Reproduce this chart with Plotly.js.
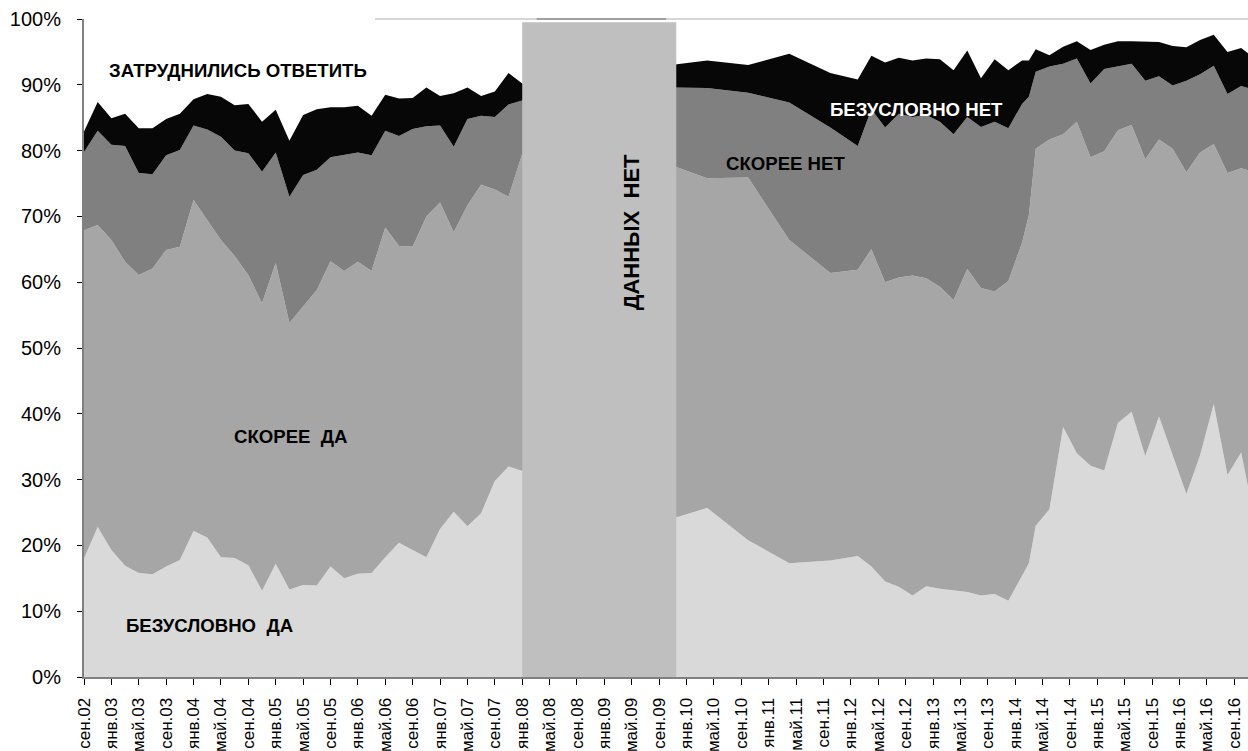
<!DOCTYPE html>
<html>
<head>
<meta charset="utf-8">
<script src="https://cdn.plot.ly/plotly-3.0.1.min.js"></script>
<style>html,body{margin:0;padding:0;background:#fff;}#chart{width:1248px;height:751px;}</style>
</head>
<body>
<div id="chart"></div>
<script>
// Survey dates (year-month)
const dates = [
  "2002-09","2002-11","2003-01","2003-03","2003-05","2003-07","2003-09","2003-11",
  "2004-01","2004-03","2004-05","2004-07","2004-09","2004-11","2005-01","2005-03",
  "2005-05","2005-07","2005-09","2005-11","2006-01","2006-03","2006-05","2006-07",
  "2006-09","2006-11","2007-01","2007-03","2007-05","2007-07","2007-09","2007-11",
  "2008-01",
  "2009-11","2010-04","2010-10","2011-04","2011-10","2012-02","2012-04","2012-06",
  "2012-08","2012-10","2012-12","2013-02","2013-04","2013-06","2013-08","2013-10",
  "2013-12","2014-02","2014-03","2014-04","2014-06","2014-08","2014-10","2014-12",
  "2015-02","2015-04","2015-06","2015-08","2015-10","2015-12","2016-02","2016-04",
  "2016-06","2016-08","2016-10","2016-11"
];

// Shares of answers, %
const definitelyYes = [
  18.0,22.8,19.3,16.9,15.8,15.6,16.8,17.8,22.2,21.2,18.2,18.1,17.0,13.1,17.2,13.3,
  14.0,13.9,16.8,15.0,15.7,15.8,18.2,20.4,19.3,18.2,22.5,25.1,22.9,24.9,29.8,32.0,
  31.3,
  24.1,25.7,20.8,17.3,17.7,18.4,16.8,14.5,13.7,12.4,13.8,13.4,13.1,12.9,12.4,12.6,
  11.6,15.5,17.3,23.0,25.5,38.0,34.0,32.1,31.4,38.6,40.3,33.6,39.6,33.7,27.8,33.7,
  41.5,30.7,34.1,28.9
];
const ratherYes = [
  49.9,45.9,47.1,46.2,45.3,46.5,48.1,47.6,50.3,48.3,48.2,45.9,44.1,43.7,45.7,40.5,
  42.3,44.9,46.4,46.7,47.4,45.9,50.1,45.1,46.1,51.8,49.6,42.5,48.8,49.9,44.3,41.0,
  48.2,
  53.6,50.1,55.1,49.1,43.7,43.5,48.2,45.5,47.0,48.6,46.8,45.9,44.2,49.1,46.7,46.0,
  48.6,50.5,52.9,57.3,56.2,44.5,50.4,46.9,48.5,44.5,43.6,45.1,42.1,46.6,48.9,46.0,
  39.5,45.9,43.2,48.1
];
const ratherNo = [
  11.9,14.3,14.5,17.6,15.5,14.3,14.4,14.7,11.3,13.7,15.7,16.0,18.5,20.0,16.8,19.2,
  20.0,18.3,15.8,17.6,16.6,17.6,14.7,16.7,17.9,13.7,11.7,13.0,13.1,10.5,11.0,14.0,
  8.1,
  11.9,13.7,12.9,20.9,22.1,18.8,21.3,23.5,24.9,24.1,24.8,25.1,25.2,23.1,24.5,25.8,
  23.2,21.1,18.0,11.7,11.1,10.7,9.6,11.2,12.5,9.7,9.3,11.9,9.6,9.6,13.9,11.9,
  11.9,12.0,12.5,12.5
];
const definitelyNo = [
  3.1,4.4,4.0,4.9,6.8,7.0,5.5,5.5,4.0,5.4,6.1,6.9,7.5,7.6,6.5,8.5,
  9.1,9.2,7.6,7.3,7.1,6.0,5.5,5.7,4.7,5.9,4.5,8.1,4.8,3.0,3.9,4.8,
  2.6,
  3.5,4.2,4.2,7.4,8.3,10.1,8.1,9.9,8.5,8.6,8.6,9.5,9.7,10.1,7.4,9.5,
  8.8,6.6,5.5,3.4,1.7,2.6,2.6,5.1,3.7,3.8,3.4,5.9,5.2,6.0,5.1,5.2,
  4.7,6.4,5.8,5.3
];

// Axis tick labels (every 4 months, starting Sep 2002)
const tickLabels = [
  "сен.02","янв.03","май.03","сен.03","янв.04","май.04","сен.04","янв.05","май.05",
  "сен.05","янв.06","май.06","сен.06","янв.07","май.07","сен.07","янв.08","май.08",
  "сен.08","янв.09","май.09","сен.09","янв.10","май.10","сен.10","янв.11","май.11",
  "сен.11","янв.12","май.12","сен.12","янв.13","май.13","сен.13","янв.14","май.14",
  "сен.14","янв.15","май.15","сен.15","янв.16","май.16","сен.16"
];
const yTickValues = [0,10,20,30,40,50,60,70,80,90,100];
const yTickLabels = ["0%","10%","20%","30%","40%","50%","60%","70%","80%","90%","100%"];
const seriesNames = ["БЕЗУСЛОВНО  ДА","СКОРЕЕ  ДА","СКОРЕЕ НЕТ","БЕЗУСЛОВНО НЕТ"];
const noDataLabel = "ДАННЫХ  НЕТ";
const hardToSayLabel = "ЗАТРУДНИЛИСЬ ОТВЕТИТЬ";
const noDataFrom = "2008-01", noDataTo = "2009-11";

// month index since Sep 2002
function mi(s){ const [y,m] = s.split("-").map(Number); return (y-2002)*12 + (m-9); }
const x = dates.map(mi);
const tickvals = tickLabels.map((_,i)=>i*4);

const colors = ["#d9d9d9","#a6a6a6","#808080","#070707"];
const vals = [definitelyYes, ratherYes, ratherNo, definitelyNo];
const traces = vals.map((v,i)=>({
  type:"scatter", mode:"lines", x:x, y:v, name:seriesNames[i],
  stackgroup:"one", line:{width:0, color:colors[i]}, fillcolor:colors[i],
  hoverinfo:"skip"
}));

const F = "Liberation Sans, Arial, sans-serif";
const nb = s => s.replace(/  /g, "\u00a0 ");
const ann = (text, xv, yv, opts) => Object.assign({
  text: nb(text), x:xv, y:yv, xref:"x", yref:"y", showarrow:false,
  xanchor:"left", yanchor:"middle", font:{family:F, size:18.6, color:"#000", weight:"bold"}
}, opts||{});

const layout = {
  width:1248, height:751,
  margin:{l:84, r:0, t:19, b:74, pad:0},
  paper_bgcolor:"#fff", plot_bgcolor:"#fff",
  showlegend:false,
  xaxis:{
    range:[0,170], tickmode:"array", tickvals:tickvals, ticktext:tickLabels,
    tickangle:-90, ticks:"outside", ticklen:6, tickcolor:"#000", tickwidth:1,
    showline:true, linecolor:"#808080", linewidth:2, showgrid:false, zeroline:false,
    tickfont:{family:F, size:17, color:"#000"}, ticklabelstandoff:6, fixedrange:true
  },
  yaxis:{
    range:[0,100], tickmode:"array", tickvals:yTickValues, ticktext:yTickLabels,
    ticks:"outside", ticklen:5, tickcolor:"#000", tickwidth:1,
    showline:true, linecolor:"#808080", linewidth:2, showgrid:false, zeroline:false,
    tickfont:{family:F, size:20, color:"#000"}, ticklabelstandoff:12, fixedrange:true
  },
  shapes:[
    {type:"rect", layer:"above", xref:"x", yref:"y", x0:mi(noDataFrom), x1:mi(noDataTo)+0.5, y0:0, y1:99.5,
     fillcolor:"#bfbfbf", line:{width:0}},
    {type:"line", layer:"above", xref:"paper", yref:"paper", x0:0.25, x1:1, y0:1, y1:1,
     line:{color:"#c8c8c8", width:1.5}},
    {type:"line", layer:"above", xref:"paper", yref:"paper", x0:0.389, x1:0.5, y0:1, y1:1,
     line:{color:"#8c8c8c", width:1.5}}
  ],
  annotations:[
    ann(hardToSayLabel, 3.3, 92.2),
    ann(seriesNames[3], 108.6, 86.2, {font:{family:F, size:18.6, color:"#fff", weight:"bold"}}),
    ann(seriesNames[2], 93.4, 78.1),
    ann(seriesNames[1], 21.6, 36.5),
    ann(seriesNames[0], 5.8, 7.9),
    ann(noDataLabel, 79.9, 67.6, {xanchor:"center", textangle:-90, font:{family:F, size:22, color:"#000", weight:"bold"}})
  ]
};

Plotly.newPlot("chart", traces, layout, {displayModeBar:false, staticPlot:true});
</script>
</body>
</html>
